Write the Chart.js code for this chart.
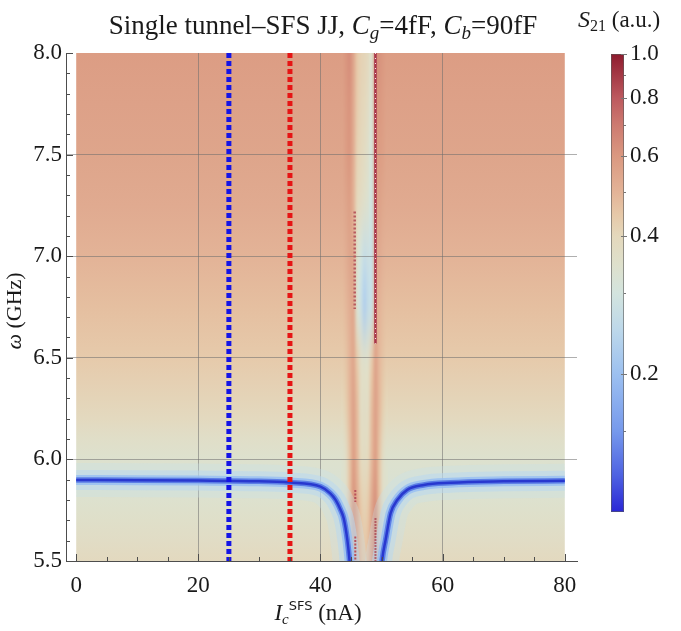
<!DOCTYPE html>
<html>
<head>
<meta charset="utf-8">
<script src="https://cdn.jsdelivr.net/npm/chart.js@4.4.1/dist/chart.umd.min.js"></script>
<style>
html, body { margin: 0; padding: 0; background: #fff; }
#wrap { position: relative; width: 681px; height: 631px; }
#wrap canvas { position: absolute; left: 0; top: 0; }
</style>
</head>
<body>
<div id="wrap">
  <canvas id="plot" width="681" height="631"></canvas>
  <canvas id="bar" width="681" height="631"></canvas>
</div>
<script>
// axis ticks
const xTicks = [0, 20, 40, 60, 80];
const yTicks = [5.5, 6.0, 6.5, 7.0, 7.5, 8.0];
const cbTicks = [0.2, 0.4, 0.6, 0.8, 1.0];
const cbMinor = [0.15, 0.3, 0.5, 0.7, 0.9];

// S21 away from the SFS stripe, read along omega
const bgOmega = [5.5, 5.6, 5.7, 5.8, 5.9, 6.0, 6.1, 6.2, 6.3, 6.5, 6.75, 7.0, 7.25, 7.5, 7.75, 8.0];
const bgS21 = [0.39, 0.37, 0.355, 0.34, 0.33, 0.34, 0.36, 0.39, 0.41, 0.44, 0.47, 0.50, 0.53, 0.55, 0.565, 0.58];

// the stripe near Ic ~ 47 nA (columns = Ic, rows = omega)
const stripeIc = [43.6, 44.2, 44.8, 45.4, 46.0, 46.6, 47.2, 47.8, 48.4, 49.0, 49.6, 50.2, 50.8];
const stripeOmega = [5.5, 5.75, 6.0, 6.25, 6.5, 6.75, 7.0, 7.25, 7.5, 7.75, 8.0];
const stripeS21 = [
  [0.39, 0.40, 0.50, 0.64, 0.58, 0.48, 0.45, 0.48, 0.58, 0.66, 0.50, 0.40, 0.39],
  [0.35, 0.37, 0.47, 0.61, 0.54, 0.45, 0.42, 0.45, 0.55, 0.62, 0.47, 0.37, 0.35],
  [0.34, 0.37, 0.46, 0.57, 0.49, 0.40, 0.38, 0.40, 0.49, 0.57, 0.46, 0.37, 0.34],
  [0.40, 0.43, 0.49, 0.56, 0.48, 0.38, 0.37, 0.38, 0.48, 0.56, 0.49, 0.43, 0.40],
  [0.44, 0.46, 0.50, 0.54, 0.44, 0.37, 0.35, 0.36, 0.44, 0.55, 0.49, 0.46, 0.44],
  [0.47, 0.49, 0.52, 0.53, 0.33, 0.28, 0.23, 0.26, 0.28, 0.52, 0.50, 0.48, 0.47],
  [0.50, 0.52, 0.55, 0.54, 0.35, 0.30, 0.27, 0.28, 0.28, 0.53, 0.53, 0.51, 0.50],
  [0.53, 0.55, 0.57, 0.50, 0.40, 0.37, 0.35, 0.33, 0.29, 0.55, 0.56, 0.54, 0.53],
  [0.55, 0.58, 0.60, 0.52, 0.42, 0.40, 0.38, 0.35, 0.31, 0.58, 0.58, 0.57, 0.55],
  [0.565, 0.59, 0.61, 0.53, 0.44, 0.41, 0.40, 0.37, 0.33, 0.60, 0.60, 0.58, 0.565],
  [0.58, 0.61, 0.63, 0.55, 0.45, 0.42, 0.41, 0.39, 0.35, 0.62, 0.62, 0.60, 0.58]
];

// resonance (minimum of S21), two branches
const leftIc = [0, 10, 20, 28.5, 35, 40.0, 41.6, 42.5, 43.3, 43.8, 44.4, 44.75, 44.95];
const leftOmega = [5.899, 5.898, 5.896, 5.893, 5.886, 5.866, 5.833, 5.80, 5.751, 5.71, 5.603, 5.505, 5.43];
const rightIc = [49.9, 50.1, 50.66, 51.48, 52.57, 54.2, 56.9, 61.3, 70, 80];
const rightOmega = [5.43, 5.505, 5.603, 5.735, 5.80, 5.85, 5.874, 5.885, 5.892, 5.895];

// marker lines
const blueIc = 25;
const redIc = 35;
const artefactRight = { ic: 49.0, from: 6.57, to: 8.0 };
const artefactLeft = { ic: 45.6, from: 6.74, to: 7.22 };
const artefactLow1 = { ic: 45.7, from: 5.5, to: 5.62 };
const artefactLow2 = { ic: 45.7, from: 5.79, to: 5.85 };
const artefactLow3 = { ic: 49.0, from: 5.5, to: 5.71 };

const serif = '"Liberation Serif", "DejaVu Serif", serif';

const cmap = [
  [0.000, '#2A27D6'], [0.080, '#4E62E2'], [0.176, '#7699EC'], [0.301, '#9CC0F0'],
  [0.398, '#BDD8EA'], [0.477, '#D3E4DE'], [0.540, '#DEE0CC'], [0.602, '#E4D8BC'],
  [0.650, '#E6C8A8'], [0.699, '#E3B397'], [0.778, '#DA9880'], [0.845, '#CD7A70'],
  [0.903, '#BD5A5F'], [1.000, '#8E1B2E']
];
function hex(c) { return [1, 3, 5].map(i => parseInt(c.slice(i, i + 2), 16)); }
function s21Rgb(v) {
  let t = Math.min(1, Math.max(0, 1 + Math.log10(v)));
  for (let i = 1; i < cmap.length; i++) {
    if (t <= cmap[i][0]) {
      const a = hex(cmap[i - 1][1]), b = hex(cmap[i][1]);
      const f = (t - cmap[i - 1][0]) / (cmap[i][0] - cmap[i - 1][0]);
      return a.map((c, k) => Math.round(c + (b[k] - c) * f));
    }
  }
  return hex(cmap[cmap.length - 1][1]);
}
function s21Color(v) { const c = s21Rgb(v); return 'rgb(' + c.join(',') + ')'; }

function pts(xs, ys) { return xs.map((x, i) => ({ x: x, y: ys[i] })); }
function vline(ic, a, b) { return [{ x: ic, y: b }, { x: ic, y: a }]; }

const glow = [
  { w: 2.5, c: '#2838CF' },
  { w: 5.5, c: '#5C7EE6' },
  { w: 10, c: 'rgba(150,190,242,0.8)' },
  { w: 20, c: 'rgba(185,216,238,0.55)' },
  { w: 34, c: 'rgba(200,225,234,0.3)' }
];

const datasets = [
  { data: vline(blueIc, 5.5, 8.0), borderColor: '#1414E6', borderWidth: 5, borderDash: [5, 3] },
  { data: vline(redIc, 5.5, 8.0), borderColor: '#E61414', borderWidth: 5, borderDash: [5, 3] },
  { data: vline(artefactRight.ic, artefactRight.from, artefactRight.to), borderColor: 'rgba(255,255,255,0.9)', borderWidth: 1, borderDash: [1, 4] },
  { data: vline(artefactRight.ic, artefactRight.from, artefactRight.to), borderColor: '#A8364A', borderWidth: 2.5 },
  { data: vline(artefactLeft.ic, artefactLeft.from, artefactLeft.to), borderColor: '#B85A5E', borderWidth: 2.5, borderDash: [2, 2] },
  { data: vline(artefactLow1.ic, artefactLow1.from, artefactLow1.to), borderColor: '#B8505A', borderWidth: 2, borderDash: [2, 1.5] },
  { data: vline(artefactLow2.ic, artefactLow2.from, artefactLow2.to), borderColor: '#B8505A', borderWidth: 2, borderDash: [2, 1.5] },
  { data: vline(artefactLow3.ic, artefactLow3.from, artefactLow3.to), borderColor: '#A8404E', borderWidth: 2, borderDash: [1.5, 1.5] }
];
glow.forEach(g => {
  datasets.push({ data: pts(leftIc, leftOmega), borderColor: g.c, borderWidth: g.w, cubicInterpolationMode: 'monotone' });
  datasets.push({ data: pts(rightIc, rightOmega), borderColor: g.c, borderWidth: g.w, cubicInterpolationMode: 'monotone' });
});
datasets.forEach(d => { d.showLine = true; d.pointRadius = 0; d.clip = 0; d.borderCapStyle = 'butt'; });

const heatmap = {
  id: 'heatmap',
  beforeDraw(chart) {
    const { ctx, scales: { x, y } } = chart;
    const top = y.getPixelForValue(8.0), bot = y.getPixelForValue(5.5);
    const L = x.getPixelForValue(0), R = x.getPixelForValue(80);
    ctx.save();
    const g = ctx.createLinearGradient(0, top, 0, bot);
    bgOmega.forEach((w, i) => g.addColorStop((y.getPixelForValue(w) - top) / (bot - top), s21Color(bgS21[i])));
    ctx.fillStyle = g;
    ctx.fillRect(L, top, R - L, bot - top);

    const nc = stripeIc.length, nr = stripeOmega.length;
    const off = document.createElement('canvas');
    off.width = nc; off.height = nr;
    const octx = off.getContext('2d');
    const img = octx.createImageData(nc, nr);
    for (let i = 0; i < nr; i++) {
      for (let j = 0; j < nc; j++) {
        const c = s21Rgb(stripeS21[i][j]);
        const p = ((nr - 1 - i) * nc + j) * 4;
        img.data[p] = c[0]; img.data[p + 1] = c[1]; img.data[p + 2] = c[2]; img.data[p + 3] = 255;
      }
    }
    octx.putImageData(img, 0, 0);
    const dI = stripeIc[1] - stripeIc[0], dW = stripeOmega[1] - stripeOmega[0];
    const x0 = x.getPixelForValue(stripeIc[0] - dI / 2), x1 = x.getPixelForValue(stripeIc[nc - 1] + dI / 2);
    const y0 = y.getPixelForValue(stripeOmega[nr - 1] + dW / 2), y1 = y.getPixelForValue(stripeOmega[0] - dW / 2);
    ctx.beginPath();
    ctx.rect(L, top, R - L, bot - top);
    ctx.clip();
    ctx.imageSmoothingEnabled = true;
    ctx.imageSmoothingQuality = 'high';
    ctx.drawImage(off, 0, 0, nc, nr, x0, y0, x1 - x0, y1 - y0);
    ctx.restore();
  }
};

function drawParts(ctx, parts, x, y, align) {
  let w = 0;
  parts.forEach(p => { ctx.font = p.f; w += ctx.measureText(p.t).width; });
  let cx = align === 'center' ? x - w / 2 : x;
  ctx.textAlign = 'left';
  ctx.textBaseline = 'alphabetic';
  parts.forEach(p => {
    ctx.font = p.f;
    ctx.fillText(p.t, cx, y + (p.dy || 0));
    cx += ctx.measureText(p.t).width;
  });
}

const decor = {
  id: 'decor',
  afterDraw(chart) {
    const { ctx, scales: { x, y }, chartArea } = chart;
    ctx.save();
    ctx.strokeStyle = '#4D4D4D';
    ctx.lineWidth = 1;
    ctx.beginPath();
    for (let v = 0; v <= 80; v += 5) {
      const px = Math.round(x.getPixelForValue(v)) + 0.5;
      const len = xTicks.includes(v) ? 7 : 4;
      ctx.moveTo(px, chartArea.bottom); ctx.lineTo(px, chartArea.bottom - len);
    }
    for (let k = 0; k <= 25; k++) {
      const v = 5.5 + k * 0.1;
      const py = Math.round(y.getPixelForValue(v)) + 0.5;
      const len = k % 5 === 0 ? 7 : 4;
      ctx.moveTo(chartArea.left, py); ctx.lineTo(chartArea.left + len, py);
    }
    ctx.stroke();

    ctx.fillStyle = '#1A1A1A';
    drawParts(ctx, [
      { t: 'Single tunnel\u2013SFS JJ, ', f: '27px ' + serif },
      { t: 'C', f: 'italic 27px ' + serif },
      { t: 'g', f: 'italic 19px ' + serif, dy: 5 },
      { t: '=4fF, ', f: '27px ' + serif },
      { t: 'C', f: 'italic 27px ' + serif },
      { t: 'b', f: 'italic 19px ' + serif, dy: 5 },
      { t: '=90fF', f: '27px ' + serif }
    ], 323, 34, 'center');

    drawParts(ctx, [
      { t: 'I', f: 'italic 23px ' + serif },
      { t: 'c', f: 'italic 15px ' + serif, dy: 4 },
      { t: 'SFS', f: '13px "DejaVu Sans", sans-serif', dy: -10 },
      { t: ' (nA)', f: '23px ' + serif }
    ], 318, 620, 'center');

    ctx.translate(21, 311);
    ctx.rotate(-Math.PI / 2);
    drawParts(ctx, [
      { t: '\u03c9', f: 'italic 22px ' + serif },
      { t: ' (GHz)', f: '22px ' + serif }
    ], 0, 0, 'center');
    ctx.restore();
  }
};

new Chart(document.getElementById('plot'), {
  type: 'scatter',
  data: { datasets: datasets },
  options: {
    responsive: false,
    animation: false,
    events: [],
    layout: { padding: { left: 0, right: 104, top: 53, bottom: 0 } },
    plugins: { legend: { display: false }, tooltip: { enabled: false } },
    scales: {
      x: {
        type: 'linear', min: -1.67, max: 82,
        afterBuildTicks: s => { s.ticks = xTicks.map(v => ({ value: v })); },
        afterFit: s => { s.height = 70; },
        grid: { color: c => (c.tick && (c.tick.value === 0 || c.tick.value === 80)) ? 'rgba(0,0,0,0)' : 'rgba(110,110,110,0.55)', drawTicks: false },
        border: { color: '#4D4D4D' },
        ticks: { padding: 11, maxRotation: 0, color: '#1A1A1A', font: { family: serif, size: 23 }, callback: v => String(v) }
      },
      y: {
        type: 'linear', min: 5.5, max: 8.0,
        afterBuildTicks: s => { s.ticks = yTicks.map(v => ({ value: v })); },
        afterFit: s => { s.width = 66; },
        grid: { color: c => (c.tick && (c.tick.value === 5.5 || c.tick.value === 8.0)) ? 'rgba(0,0,0,0)' : 'rgba(110,110,110,0.55)', drawTicks: false },
        border: { color: '#4D4D4D' },
        ticks: { padding: 4, color: '#1A1A1A', font: { family: serif, size: 23 }, callback: v => v.toFixed(1) }
      }
    }
  },
  plugins: [heatmap, decor]
});

const colorbar = {
  id: 'colorbar',
  beforeDraw(chart) {
    const { ctx, chartArea: a, scales: { y } } = chart;
    ctx.save();
    const g = ctx.createLinearGradient(0, a.top, 0, a.bottom);
    cmap.forEach(s => {
      const py = y.getPixelForValue(Math.pow(10, s[0] - 1));
      g.addColorStop(Math.min(1, Math.max(0, (py - a.top) / (a.bottom - a.top))), s[1]);
    });
    ctx.fillStyle = g;
    ctx.fillRect(a.left, a.top, a.right - a.left, a.bottom - a.top);
    ctx.strokeStyle = 'rgba(90,90,90,0.6)';
    ctx.lineWidth = 1;
    ctx.strokeRect(a.left + 0.5, a.top + 0.5, a.right - a.left - 1, a.bottom - a.top - 1);
    ctx.strokeStyle = '#777';
    ctx.beginPath();
    cbTicks.forEach(v => { const py = Math.round(y.getPixelForValue(v)) + 0.5; ctx.moveTo(a.right - 3, py); ctx.lineTo(a.right + 3, py); });
    cbMinor.forEach(v => { const py = Math.round(y.getPixelForValue(v)) + 0.5; ctx.moveTo(a.right, py); ctx.lineTo(a.right + 2, py); });
    ctx.stroke();
    ctx.fillStyle = '#1A1A1A';
    drawParts(ctx, [
      { t: 'S', f: 'italic 24px ' + serif },
      { t: '21', f: '16px ' + serif, dy: 4 },
      { t: ' (a.u.)', f: '23px ' + serif }
    ], 578, 27, 'left');
    ctx.restore();
  }
};

new Chart(document.getElementById('bar'), {
  type: 'scatter',
  data: { datasets: [] },
  options: {
    responsive: false,
    animation: false,
    events: [],
    layout: { padding: { left: 611, right: 7, top: 54, bottom: 119 } },
    plugins: { legend: { display: false }, tooltip: { enabled: false } },
    scales: {
      x: { display: false, min: 0, max: 1 },
      y: {
        type: 'logarithmic', position: 'right', min: 0.1, max: 1.0,
        afterBuildTicks: s => { s.ticks = cbTicks.map(v => ({ value: v })); },
        afterFit: s => { s.width = 50; },
        grid: { display: false, drawTicks: false },
        border: { display: false },
        ticks: { padding: 6, color: '#1A1A1A', font: { family: serif, size: 23 }, callback: v => Number(v).toFixed(1) }
      }
    }
  },
  plugins: [colorbar]
});
</script>
</body>
</html>
